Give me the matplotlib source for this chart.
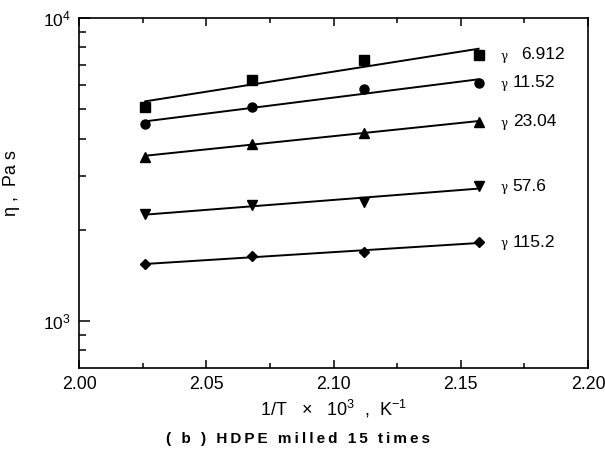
import numpy as np
import matplotlib
matplotlib.use("Agg")
import matplotlib.pyplot as plt
from matplotlib.ticker import (NullFormatter, MultipleLocator,
                               LogFormatterMathtext, FormatStrFormatter,
                               FixedLocator)

# Inverse temperature (1/T x 10^3, K^-1)
inv_T = [2.026, 2.068, 2.112, 2.157]

# Viscosity (Pa s) at each shear rate
shear_rates = ["6.912", "11.52", "23.04", "57.6", "115.2"]
eta_6912 = [5090, 6250, 7280, 7560]
eta_1152 = [4480, 5090, 5840, 6110]
eta_2304 = [3490, 3850, 4190, 4550]
eta_576 = [2250, 2420, 2480, 2780]
eta_1152b = [1540, 1640, 1690, 1820]
series = [eta_6912, eta_1152, eta_2304, eta_576, eta_1152b]
markers = ["s", "o", "^", "v", "D"]
num_offset = [15, 9, 9, 9, 9]

plt.rcParams["font.family"] = ["Liberation Sans", "DejaVu Sans"]
plt.rcParams["mathtext.fontset"] = "custom"
plt.rcParams["mathtext.rm"] = "Liberation Sans"

fig = plt.figure(figsize=(6.05, 4.55), dpi=100)
ax = fig.add_axes([0.1306, 0.1912, 0.8414, 0.7692])

x = np.array(inv_T)
xf = np.linspace(x[0], x[-1], 50)
for vals, m, rate, off in zip(series, markers, shear_rates, num_offset):
    y = np.array(vals, dtype=float)
    coef = np.polyfit(x, np.log10(y), 1)
    ax.plot(xf, 10 ** np.polyval(coef, xf), color="black", lw=1.4)
    ms = 5.5 if m == "D" else 6.5
    ax.plot(x, y, ls="none", marker=m, color="black", ms=ms)
    ax.annotate("γ", (2.1655, y[-1]), xytext=(0, -1), textcoords="offset points",
                fontsize=8.5, family="DejaVu Serif", va="center", ha="left")
    ax.annotate(rate, (2.1655, y[-1]), xytext=(off, 0), textcoords="offset points",
                fontsize=12.5, va="center", ha="left")

ax.set_yscale("log")
ax.set_xlim(2.0, 2.2)
ax.set_ylim(700, 10000)
ax.xaxis.set_major_locator(MultipleLocator(0.05))
ax.xaxis.set_minor_locator(MultipleLocator(0.025))
ax.xaxis.set_major_formatter(FormatStrFormatter("%.2f"))
ax.yaxis.set_major_locator(FixedLocator([1e3, 1e4]))
ax.yaxis.set_major_formatter(LogFormatterMathtext())
ax.yaxis.set_minor_locator(FixedLocator([800, 900] + [k * 1000 for k in range(2, 10)]))
ax.yaxis.set_minor_formatter(NullFormatter())

ax.tick_params(axis="x", which="both", direction="in", top=True, bottom=True,
               labelsize=12.8, pad=6, width=1.1)
ax.tick_params(axis="x", which="major", length=6)
ax.tick_params(axis="x", which="minor", length=3.5)
ax.tick_params(axis="y", which="both", direction="in", left=True, right=False,
               labelsize=12.5, width=1.1)
ax.tick_params(axis="y", which="major", length=8, pad=6)
ax.tick_params(axis="y", which="minor", length=5)
for s in ax.spines.values():
    s.set_linewidth(1.2)

fig.text(12 / 605, 1 - 183 / 455, "η ,  Pa s", rotation=90, fontsize=13,
         ha="center", va="center")
ax.set_xlabel(r"1/T   $\times$   10$^{3}$  ,  K$^{-1}$", fontsize=13, labelpad=3)

title = "\u2009".join("( b ) HDPE milled 15 times")
fig.text(297.5 / 605, 0.02, title, ha="center", va="bottom",
         fontsize=11, fontweight="bold")

fig.savefig("out.png", dpi=100)
